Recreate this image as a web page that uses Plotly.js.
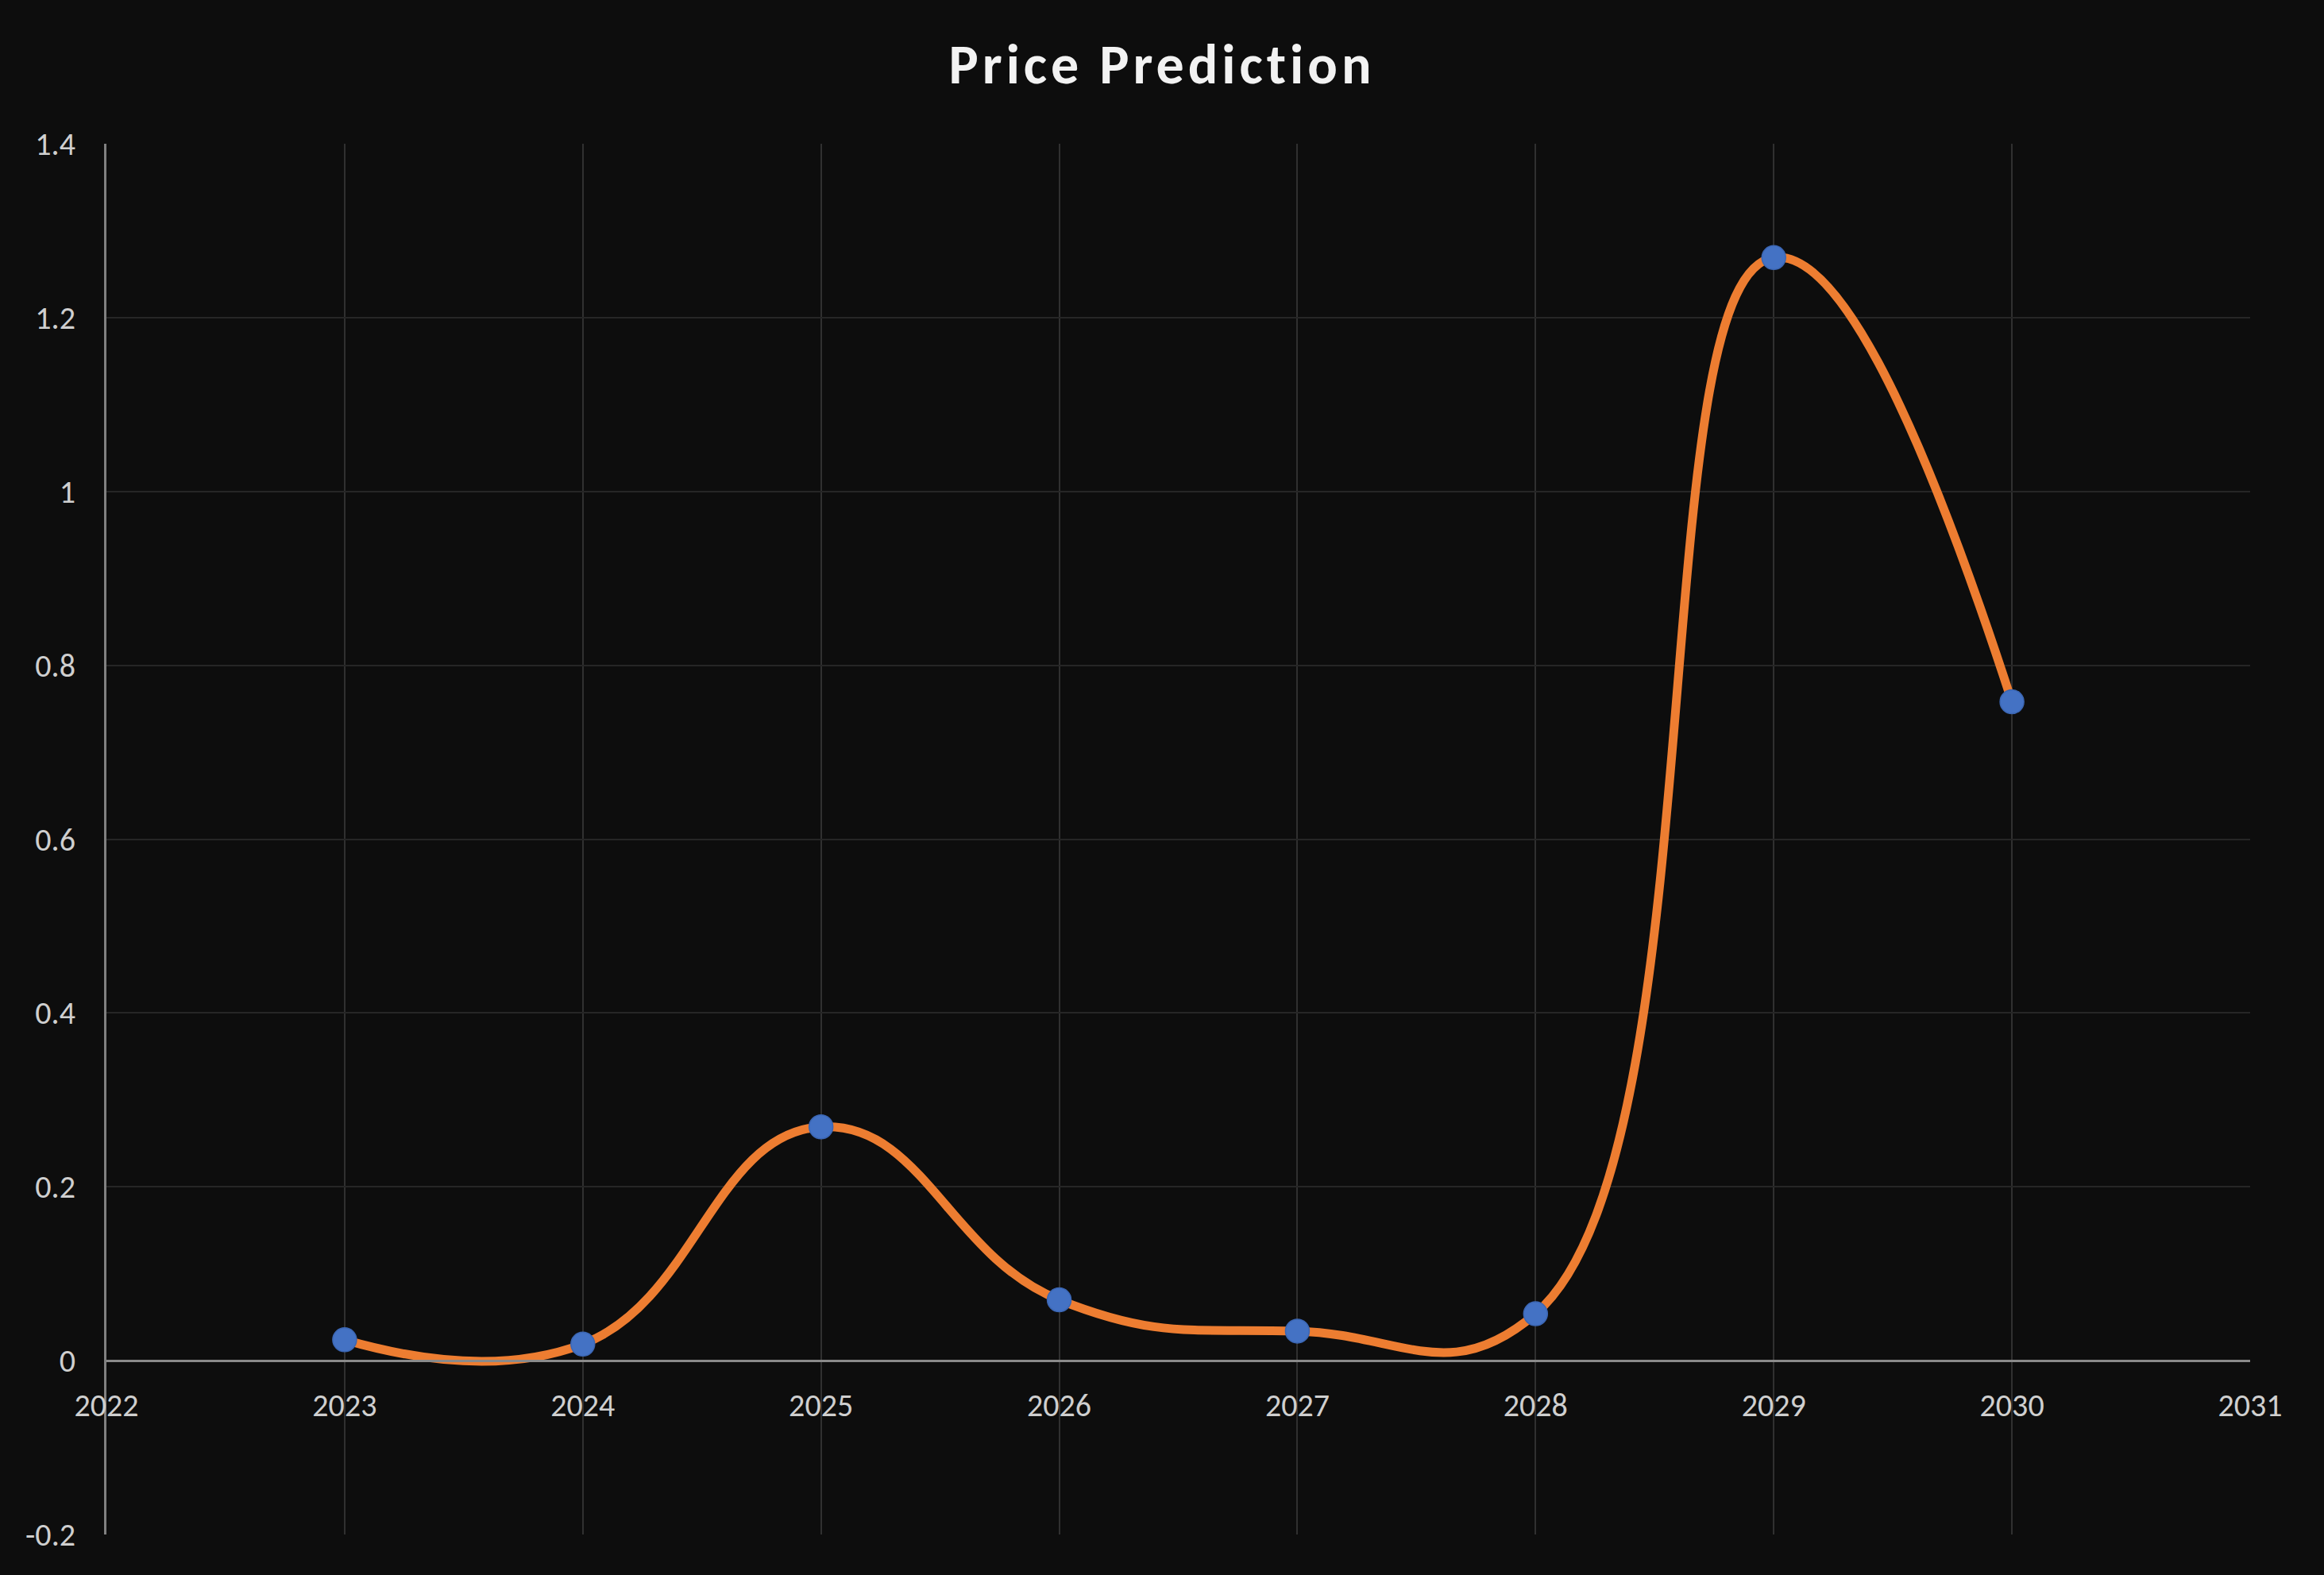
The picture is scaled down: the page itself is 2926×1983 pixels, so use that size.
<!DOCTYPE html>
<html>
<head>
<meta charset="utf-8">
<script src="https://cdn.plot.ly/plotly-3.0.1.min.js"></script>
<style>
  html, body { margin: 0; padding: 0; background: #0d0d0d; }
  #chart { width: 2926px; height: 1983px; }
  #chart .gtitle { letter-spacing: 5px; }
</style>
</head>
<body>
<div id="chart"></div>
<script>
// ---- data ----
const years = [2023, 2024, 2025, 2026, 2027, 2028, 2029, 2030];
const prices = [0.024, 0.019, 0.269, 0.070, 0.034, 0.054, 1.269, 0.758];

const xTickVals = [2022, 2023, 2024, 2025, 2026, 2027, 2028, 2029, 2030, 2031];
const xTickText = ['2022', '2023', '2024', '2025', '2026', '2027', '2028', '2029', '2030', '2031'];
const yTickVals = [-0.2, 0, 0.2, 0.4, 0.6, 0.8, 1, 1.2, 1.4];
const yTickText = ['-0.2', '0', '0.2', '0.4', '0.6', '0.8', '1', '1.2', '1.4'];

const chartTitle = 'Price Prediction';

// ---- chart ----
const fontFamily = 'Carlito, Calibri, "Open Sans", "Noto Sans", sans-serif';

const trace = {
  x: years,
  y: prices,
  type: 'scatter',
  mode: 'lines+markers',
  line: { color: '#ED7D31', width: 11, shape: 'spline', smoothing: 1.3 },
  marker: { color: '#4472C4', size: 30, line: { color: '#3b66b3', width: 1.5 } },
  hoverinfo: 'x+y'
};

const yMin = -0.2, yMax = 1.4;

const layout = {
  width: 2926,
  height: 1983,
  paper_bgcolor: '#0d0d0d',
  plot_bgcolor: '#0d0d0d',
  margin: { l: 134, r: 93, t: 181, b: 51 },
  showlegend: false,
  title: {
    text: chartTitle,
    font: { family: fontFamily, size: 70, color: '#f2f2f2', weight: 700 },
    x: 0.5,
    xanchor: 'center',
    y: 1 - 80 / 1983,
    yanchor: 'middle'
  },
  xaxis: {
    range: [2022, 2031],
    tickmode: 'array',
    tickvals: xTickVals,
    ticktext: xTickText,
    showgrid: true,
    gridcolor: '#303030',
    gridwidth: 2,
    zeroline: false,
    showline: true,
    linecolor: '#8a8a8a',
    linewidth: 3,
    anchor: 'free',
    position: (0 - yMin) / (yMax - yMin),
    ticks: '',
    ticklabelstandoff: 20,
    tickfont: { family: fontFamily, size: 40, color: '#cfcfcf' }
  },
  yaxis: {
    range: [yMin, yMax],
    tickmode: 'array',
    tickvals: yTickVals,
    ticktext: yTickText,
    showgrid: true,
    gridcolor: '#262626',
    gridwidth: 2,
    zeroline: false,
    showline: true,
    linecolor: '#808080',
    linewidth: 3,
    ticks: '',
    ticklabelstandoff: 28,
    tickfont: { family: fontFamily, size: 40, color: '#cfcfcf' }
  }
};

Plotly.newPlot('chart', [trace], layout, { displayModeBar: false, staticPlot: true });
</script>
</body>
</html>
